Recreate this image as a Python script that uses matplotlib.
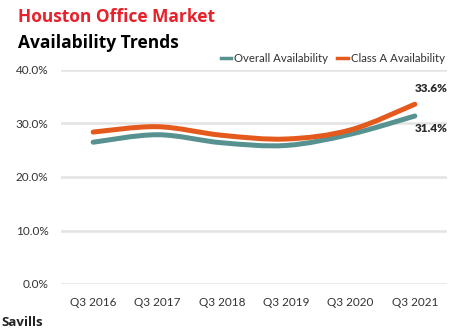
import matplotlib
matplotlib.use("Agg")
import matplotlib.pyplot as plt
import numpy as np
from matplotlib.path import Path
from matplotlib.patches import PathPatch

quarters = ["Q3 2016", "Q3 2017", "Q3 2018", "Q3 2019", "Q3 2020", "Q3 2021"]
overall = [26.5, 27.9, 26.4, 25.9, 28.0, 31.4]
class_a = [28.4, 29.4, 27.8, 27.1, 28.8, 33.6]
y_ticks = [0, 10, 20, 30, 40]

TEAL = "#579291"
ORANGE = "#e35a1c"
TICK_FONT = "Lato"


def smooth_path(xs, ys, tension=0.5):
    """Bezier path through the points (Catmull-Rom style control points)."""
    xs = np.asarray(xs, float)
    ys = np.asarray(ys, float)
    verts = [(xs[0], ys[0])]
    codes = [Path.MOVETO]
    n = len(xs)
    for i in range(n - 1):
        x0, y0 = (xs[i - 1], ys[i - 1]) if i > 0 else (xs[i], ys[i])
        x1, y1 = xs[i], ys[i]
        x2, y2 = xs[i + 1], ys[i + 1]
        x3, y3 = (xs[i + 2], ys[i + 2]) if i + 2 < n else (x2, y2)
        c1 = (x1 + (x2 - x0) * tension / 3, y1 + (y2 - y0) * tension / 3)
        c2 = (x2 - (x3 - x1) * tension / 3, y2 - (y3 - y1) * tension / 3)
        verts += [c1, c2, (x2, y2)]
        codes += [Path.CURVE4] * 3
    return Path(verts, codes)


fig = plt.figure(figsize=(4.56, 3.33), dpi=100)
ax = fig.add_axes([61 / 456, 1 - 284 / 333, 386 / 456, 214 / 333])

x = np.arange(len(quarters))
for vals, color in [(overall, TEAL), (class_a, ORANGE)]:
    ax.add_patch(PathPatch(smooth_path(x, vals), facecolor="none",
                           edgecolor=color, lw=3.6, capstyle="round",
                           zorder=3))

ax.set_xlim(-0.5, len(quarters) - 0.5)
ax.set_ylim(0, 40)
ax.set_yticks(y_ticks)
ax.set_yticklabels([f"{v:.1f}%" for v in y_ticks])
ax.set_xticks(x)
ax.set_xticklabels(quarters)
ax.tick_params(length=0, labelsize=8.5, labelcolor="#333333", pad=9)
for lab in ax.get_xticklabels() + ax.get_yticklabels():
    lab.set_family(TICK_FONT)
ax.grid(axis="y", color="#e3e3e3", lw=1.8, zorder=0)
for s in ax.spines.values():
    s.set_visible(False)

# end-point labels
ax.annotate(f"{class_a[-1]:.1f}%", (x[-1], class_a[-1]), xytext=(12, 11),
            textcoords="offset points", ha="center", va="center",
            fontsize=8.5, fontweight="heavy", color="#2b2b2b", family=TICK_FONT)
ax.annotate(f"{overall[-1]:.1f}%", (x[-1], overall[-1]), xytext=(12, -9),
            textcoords="offset points", ha="center", va="center",
            fontsize=8.5, fontweight="heavy", color="#2b2b2b", family=TICK_FONT)

# legend
ax.plot([], [], color=TEAL, lw=2.5, label="Overall Availability")
ax.plot([], [], color=ORANGE, lw=2.5, label="Class A Availability")
ax.legend(loc="lower right", bbox_to_anchor=(1.01, 1.0), ncol=2, frameon=False,
          prop={"family": TICK_FONT, "size": 8.2}, handlelength=0.9,
          handletextpad=0.3, columnspacing=0.8, borderaxespad=0.1,
          labelcolor="#333333")

fig.text(18 / 456, 1 - 17 / 333, "Houston Office Market", color="#e8202a",
         fontsize=12.5, fontweight="bold", family="Open Sans", va="center")
fig.text(18 / 456, 1 - 43 / 333, "Availability Trends", color="black",
         fontsize=12.5, fontweight="bold", family="Open Sans", va="center")
fig.text(1 / 456, 1 - 322 / 333, "Savills", color="#222222",
         fontsize=9.5, fontweight="bold", family="Open Sans", va="center")

fig.savefig("out.png", dpi=100, facecolor="white")
